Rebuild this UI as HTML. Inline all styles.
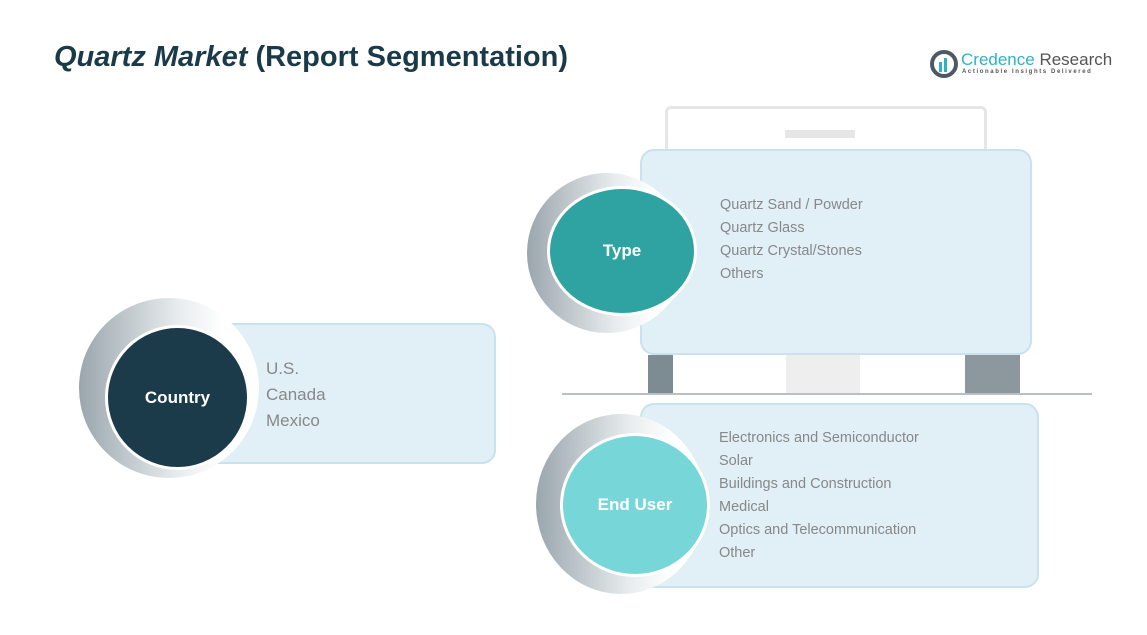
<!DOCTYPE html>
<html><head><style>
body{margin:0;width:1147px;height:635px;background:#fff;position:relative;overflow:hidden;font-family:"Liberation Sans",sans-serif}
.a{position:absolute}
.box{position:absolute;background:#e1eff6;border:2px solid #c8e2ee;border-radius:14px;box-sizing:border-box}
.ring{position:absolute;border-radius:50%;background:linear-gradient(90deg,#9aa6ad,#e8ecee 55%,#fff 80%)}
.c{position:absolute;border-radius:50%;border:3px solid #fff;color:#fff;font-weight:bold;font-size:17px;display:flex;align-items:center;justify-content:center;box-sizing:border-box}
.t{position:absolute;color:#888;font-size:14.5px;line-height:23px}
</style></head><body>
<div class="a" style="left:54px;top:41px;font-size:29px;font-weight:bold;color:#1a3a4a"><i>Quartz Market</i> (Report Segmentation)</div>
<svg class="a" style="left:930px;top:50px" width="28" height="28"><circle cx="14" cy="14" r="12" fill="none" stroke="#4d5a63" stroke-width="4"/><rect x="9" y="12" width="3" height="10" fill="#2fb3c4"/><rect x="14" y="8" width="3" height="14" fill="#2fb3c4"/></svg>
<div class="a" style="left:961px;top:50px;font-size:17px;color:#2fb3c4">Credence <span style="color:#555">Research</span></div>
<div class="a" style="left:962px;top:69px;font-size:6px;letter-spacing:1.6px;color:#555;font-weight:bold">Actionable Insights Delivered</div>
<div class="a" style="left:665px;top:106px;width:316px;height:60px;border:3px solid #e6e6e6;border-bottom:none;border-radius:6px 6px 0 0"></div>
<div class="a" style="left:785px;top:130px;width:70px;height:8px;background:#e6e6e6"></div>
<div class="a" style="left:562px;top:393px;width:530px;height:2px;background:#b8c0c4"></div>
<div class="a" style="left:786px;top:355px;width:74px;height:38px;background:#eee"></div>
<div class="a" style="left:648px;top:355px;width:25px;height:38px;background:#7d8b92"></div>
<div class="a" style="left:965px;top:355px;width:55px;height:38px;background:#8d989e"></div>
<div class="box" style="left:640px;top:149px;width:392px;height:206px"></div>
<div class="box" style="left:640px;top:403px;width:399px;height:185px"></div>
<div class="box" style="left:185px;top:323px;width:311px;height:141px"></div>
<div class="ring" style="left:527px;top:173px;width:160px;height:160px"></div>
<div class="c" style="left:547px;top:186px;width:150px;height:130px;background:#2ea3a1">Type</div>
<div class="ring" style="left:536px;top:414px;width:170px;height:180px"></div>
<div class="c" style="left:560px;top:433px;width:150px;height:144px;background:#77d7d8">End User</div>
<div class="ring" style="left:79px;top:298px;width:180px;height:180px"></div>
<div class="c" style="left:105px;top:325px;width:145px;height:145px;background:#1b3b4b">Country</div>
<div class="t" style="left:720px;top:194px">Quartz Sand / Powder<br>Quartz Glass<br>Quartz Crystal/Stones<br>Others</div>
<div class="t" style="left:719px;top:427px">Electronics and Semiconductor<br>Solar<br>Buildings and Construction<br>Medical<br>Optics and Telecommunication<br>Other</div>
<div class="t" style="left:266px;top:356px;font-size:17px;line-height:26px">U.S.<br>Canada<br>Mexico</div>
</body></html>
